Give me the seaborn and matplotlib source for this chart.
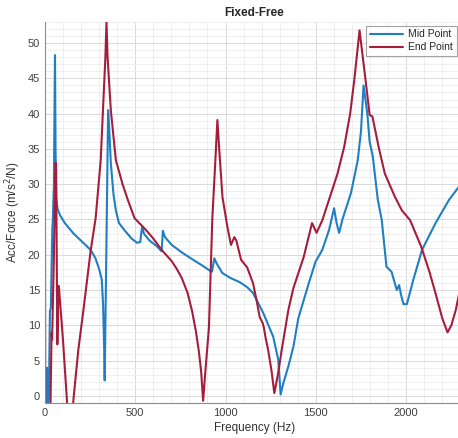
import numpy as np
import pandas as pd
import seaborn as sns
import matplotlib.pyplot as plt
from matplotlib.ticker import MultipleLocator

# --- data ---
mid_freq = [0, 1.5, 8, 12, 14, 18, 22, 28, 33, 41, 44, 50, 53, 56, 59, 63, 70, 84,
            110, 159, 200, 253, 280, 300, 315, 322, 328, 331, 340, 350, 356, 365, 380,
            393, 410, 440, 480, 510, 528, 533, 539, 548, 580, 620, 646, 650, 653, 665,
            702, 760, 820, 870, 916, 925, 938, 950, 983, 1028, 1080, 1120, 1152, 1208, 1264,
            1292, 1305, 1320, 1348, 1376, 1403, 1459, 1498, 1536, 1573, 1601, 1615,
            1629, 1646, 1695, 1732, 1750, 1764, 1785, 1798, 1815, 1843, 1865, 1891, 1919,
            1948, 1961, 1972, 1985, 2004, 2040, 2088, 2163, 2238, 2320]
mid_acc = [41, -3, -3, 4, -3, -3, 0, 12, 12.5, 23.5, 25, 30, 40, 48.3, 35, 28, 26.5, 25.6,
           24.5, 23, 22, 20.7, 19.5, 18, 16.5, 13, 7, 2.2, 20, 40.5, 38, 33, 28.5,
           26.3, 24.5, 23.5, 22.3, 21.7, 21.8, 23, 24, 23, 22, 21.2, 20.5, 22, 23.4, 22.5,
           21.4, 20.3, 19.3, 18.5, 17.7, 17.6, 19.5, 18.8, 17.4, 16.7, 16.1, 15.4, 14.6, 11.8, 8.4,
           5.1, 0.2, 1.8, 4.2, 7, 11, 15.8, 19, 20.7, 23.5, 26.6, 24.5,
           23.1, 24.9, 28.8, 33.4, 37.5, 44, 40, 36, 34, 27.8, 24.9, 18.3, 17.6,
           15, 15.7, 14.3, 13, 13, 16.5, 20.7, 24.5, 27.8, 30.6]

end_freq = [0, 1.5, 30, 37, 40, 50, 58, 62, 69, 75, 78, 100, 123, 130, 150, 160, 185,
            215, 253, 281, 309, 324, 335, 341, 347, 365, 393, 430, 459, 496, 560, 600, 646,
            702, 730, 758, 790, 815, 835, 852, 865, 876, 890, 908, 927, 940, 955, 965, 983,
            1010, 1030, 1049, 1060, 1086, 1120, 1152, 1170, 1189, 1206, 1213, 1220, 1236,
            1255, 1270, 1290, 1311, 1348, 1376, 1433, 1479, 1504, 1536, 1573, 1620, 1657,
            1690, 1713, 1742, 1775, 1798, 1813, 1850, 1882, 1938, 1976, 2022, 2084, 2130,
            2163, 2200, 2229, 2250, 2275, 2320]
end_acc = [34.6, -3, -3, 9, 8, 20, 33, 33, 7.3, 15.6, 15.3, 8, -1, -3, -3, 0, 6.5,
           12.5, 20.5, 25.2, 33.4, 41.9, 48, 53, 48, 40.5, 33.4, 30, 27.8, 25.2, 23.5, 22.3, 20.7,
           19.1, 18, 16.7, 14.6, 12, 9.3, 6.4, 3.5, -0.7, 4, 9.6, 25.2, 31.5, 39.1, 35, 28.2,
           24, 21.4, 22.5, 22, 19.3, 18.2, 16, 13.8, 11.2, 10.3, 9.6, 8.5, 6.5,
           3.5, 0.4, 3, 6.5, 12.2, 15.3, 19.7, 24.5, 23.1, 24.9, 27.8, 31.5, 35.3,
           40, 44.8, 51.8, 44.8, 39.8, 39.6, 35, 31.5, 28.2, 26.3, 24.9, 21.1, 17.5,
           14.5, 11, 9, 10, 12.2, 17.8]

series_names = ["Mid Point", "End Point"]
colors = ["#1f7fc4", "#a61d3c"]

df = pd.concat([
    pd.DataFrame({"Frequency": mid_freq, "Acc": mid_acc, "Series": series_names[0]}),
    pd.DataFrame({"Frequency": end_freq, "Acc": end_acc, "Series": series_names[1]}),
])

sns.set_theme(style="white")
plt.rcParams['font.family'] = ['Liberation Sans', 'DejaVu Sans']

fig = plt.figure(figsize=(4.58, 4.38), dpi=100)
ax = fig.add_axes([0.098, 0.080, 0.915, 0.870])

sns.lineplot(data=df, x="Frequency", y="Acc", hue="Series", hue_order=series_names,
             palette=dict(zip(series_names, colors)), estimator=None, sort=False,
             linewidth=1.5, ax=ax)

ax.set_xlim(0, 2320)
ax.set_ylim(-1, 53)
ax.xaxis.set_major_locator(MultipleLocator(500))
ax.xaxis.set_minor_locator(MultipleLocator(100))
ax.yaxis.set_major_locator(MultipleLocator(5))
ax.yaxis.set_minor_locator(MultipleLocator(1))
ax.grid(which="major", color="#d9d9d9", linewidth=0.7)
ax.grid(which="minor", color="#ececec", linewidth=0.6)
ax.set_axisbelow(True)

for s in ["top", "right"]:
    ax.spines[s].set_visible(False)
for s in ["left", "bottom"]:
    ax.spines[s].set_color("#8c8c8c")
    ax.spines[s].set_linewidth(0.8)

ax.tick_params(axis="both", which="both", labelsize=8, colors="#404040", length=0)
ax.set_xlabel("Frequency (Hz)", fontsize=8.5, color="#333333", labelpad=3)
ax.set_ylabel("Acc/Force (m/s$^2$/N)", fontsize=8.5, color="#333333", labelpad=3)
ax.set_title("Fixed-Free", fontsize=8.5, fontweight="bold", pad=4)

leg = ax.legend(loc="upper right", bbox_to_anchor=(0.983, 0.99), borderaxespad=0,
                fontsize=7.5, frameon=True, fancybox=False, handlelength=3.2,
                borderpad=0.35, labelspacing=0.3, handletextpad=0.5)
leg.get_frame().set_edgecolor("#8c8c8c")
leg.get_frame().set_linewidth(0.8)

fig.savefig("out.png", dpi=100)
